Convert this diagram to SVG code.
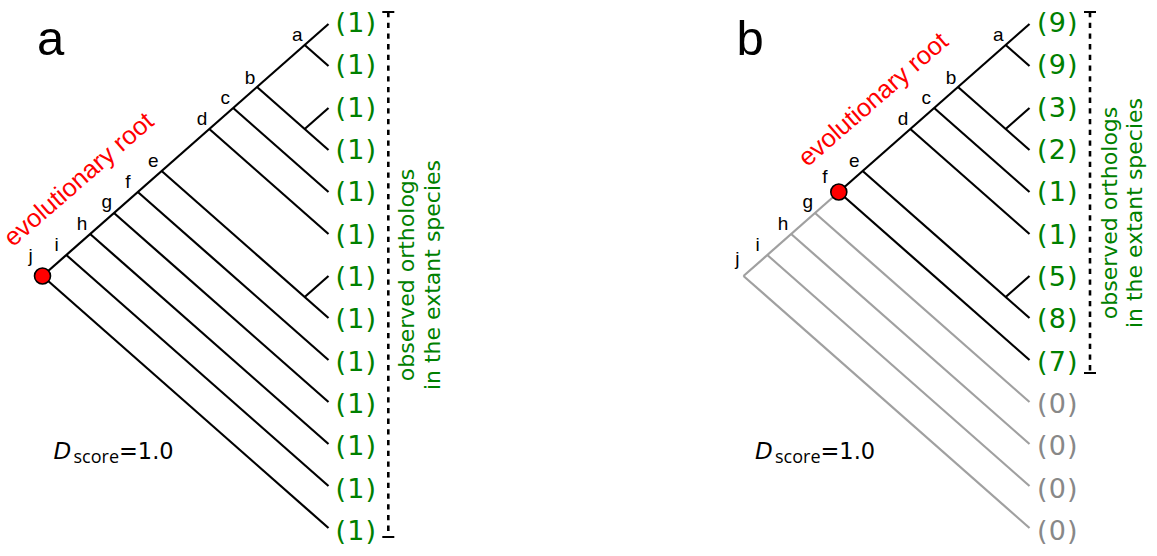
<svg xmlns="http://www.w3.org/2000/svg" width="1157" height="556" viewBox="0 0 1157 556">
<style>
  .br{stroke:#000;stroke-width:2.2;fill:none;stroke-linecap:butt}
  .gr{stroke:#a0a0a0;stroke-width:2.2;fill:none}
  .dot{stroke:#000;stroke-width:2.6;stroke-dasharray:5.3 5.4;fill:none}
  .tick{stroke:#000;stroke-width:2;fill:none}
  .lbl{font-family:"Liberation Sans",Arial,sans-serif;font-size:19px;fill:#000;text-anchor:middle}
  .cnt{font-family:"DejaVu Sans",Verdana,sans-serif;font-size:27px;letter-spacing:1.1px;fill:#008000}
  .cnt0{font-family:"DejaVu Sans",Verdana,sans-serif;font-size:27px;letter-spacing:1.1px;fill:#888888}
  .vt{font-family:"DejaVu Sans",Verdana,sans-serif;font-size:22px;fill:#008000;text-anchor:middle}
  .root{font-family:"Liberation Sans",Arial,sans-serif;font-size:25.5px;fill:#ff0000}
  .panel{font-family:"Liberation Sans",Arial,sans-serif;font-size:49px;fill:#000}
  .rc{fill:#ff0000;stroke:#000;stroke-width:1.6}
  .dD{font-family:"DejaVu Sans",sans-serif;font-style:italic;font-size:23px;fill:#000}
  .ds{font-family:"Open Sans",sans-serif;font-size:18px;fill:#000}
  .dsn{font-family:"DejaVu Sans",sans-serif;font-size:22.5px;fill:#000}
</style>

<!-- ===== Panel a ===== -->
<g id="connectors-a">
  <path class="br" d="M42.48,276 L328.5,24"/>
  <path class="br" d="M304.67,45 L328.5,66"/>
  <path class="br" d="M257,87 L328.5,150"/>
  <path class="br" d="M304.67,129 L328.5,108"/>
  <path class="br" d="M233.16,108 L328.5,192"/>
  <path class="br" d="M209.33,129 L328.5,234"/>
  <path class="br" d="M161.65,171 L328.5,318"/>
  <path class="br" d="M304.67,297 L328.5,276"/>
  <path class="br" d="M137.82,192 L328.5,360"/>
  <path class="br" d="M113.98,213 L328.5,402"/>
  <path class="br" d="M90.15,234 L328.5,444"/>
  <path class="br" d="M66.31,255 L328.5,486"/>
  <path class="br" d="M42.48,276 L328.5,528"/>
  <path class="dot" d="M388.3,12 L388.3,537"/>
  <path class="tick" d="M382.3,12 H394.3 M382.3,537 H394.3"/>
</g>

<g id="panel-a-label"><text class="panel" x="37" y="55">a</text></g>

<g id="root-a">
  <circle class="rc" cx="42.5" cy="276" r="8"/>
  <text class="root" transform="translate(13,247.5) rotate(-41)">evolutionary root</text>
</g>

<g id="nodes-a">
  <g id="a-node-a"><text class="lbl" x="297.3" y="40.7">a</text></g>
  <g id="a-node-b"><text class="lbl" x="250" y="83.5">b</text></g>
  <g id="a-node-c"><text class="lbl" x="225.3" y="103.8">c</text></g>
  <g id="a-node-d"><text class="lbl" x="202" y="125">d</text></g>
  <g id="a-node-e"><text class="lbl" x="153.3" y="167">e</text></g>
  <g id="a-node-f"><text class="lbl" x="128" y="188">f</text></g>
  <g id="a-node-g"><text class="lbl" x="106.7" y="207.5">g</text></g>
  <g id="a-node-h"><text class="lbl" x="82" y="230">h</text></g>
  <g id="a-node-i"><text class="lbl" x="56.7" y="251.3">i</text></g>
  <g id="a-node-j"><text class="lbl" x="30.7" y="261.5">j</text></g>
</g>

<g id="tips-a">
  <g id="a-tip1"><text class="cnt" x="335.5" y="32">(1)</text></g>
  <g id="a-tip2"><text class="cnt" x="335.5" y="74.3">(1)</text></g>
  <g id="a-tip3"><text class="cnt" x="335.5" y="116.7">(1)</text></g>
  <g id="a-tip4"><text class="cnt" x="335.5" y="159">(1)</text></g>
  <g id="a-tip5"><text class="cnt" x="335.5" y="201.3">(1)</text></g>
  <g id="a-tip6"><text class="cnt" x="335.5" y="243.7">(1)</text></g>
  <g id="a-tip7"><text class="cnt" x="335.5" y="286">(1)</text></g>
  <g id="a-tip8"><text class="cnt" x="335.5" y="328.3">(1)</text></g>
  <g id="a-tip9"><text class="cnt" x="335.5" y="370.6">(1)</text></g>
  <g id="a-tip10"><text class="cnt" x="335.5" y="413">(1)</text></g>
  <g id="a-tip11"><text class="cnt" x="335.5" y="455.3">(1)</text></g>
  <g id="a-tip12"><text class="cnt" x="335.5" y="497.6">(1)</text></g>
  <g id="a-tip13"><text class="cnt" x="335.5" y="540">(1)</text></g>
</g>

<g id="vtext-a">
  <text class="vt" transform="translate(414,275) rotate(-90)">observed orthologs</text>
  <text class="vt" transform="translate(440,275) rotate(-90)">in the extant species</text>
</g>

<g id="dscore-a">
  <text y="458.5"><tspan class="dD" x="53.5">D</tspan><tspan class="ds" x="73.5" y="463">score</tspan><tspan class="dsn" x="119" y="458.5">=1.0</tspan></text>
</g>

<!-- ===== Panel b ===== -->
<g id="connectors-b">
  <path class="gr" d="M743.48,276 L838.82,192"/>
  <path class="gr" d="M814.98,213 L1029.5,402"/>
  <path class="gr" d="M791.15,234 L1029.5,444"/>
  <path class="gr" d="M767.31,255 L1029.5,486"/>
  <path class="gr" d="M743.48,276 L1029.5,528"/>
  <path class="br" d="M838.82,192 L1029.5,24"/>
  <path class="br" d="M1005.67,45 L1029.5,66"/>
  <path class="br" d="M958,87 L1029.5,150"/>
  <path class="br" d="M1005.67,129 L1029.5,108"/>
  <path class="br" d="M934.16,108 L1029.5,192"/>
  <path class="br" d="M910.33,129 L1029.5,234"/>
  <path class="br" d="M862.65,171 L1029.5,318"/>
  <path class="br" d="M1005.67,297 L1029.5,276"/>
  <path class="br" d="M838.82,192 L1029.5,360"/>
  <path class="dot" d="M1090,12 L1090,373"/>
  <path class="tick" d="M1084,12 H1096 M1084,373 H1096"/>
</g>

<g id="panel-b-label"><text class="panel" x="736.5" y="55">b</text></g>

<g id="root-b">
  <circle class="rc" cx="838.8" cy="192" r="8"/>
  <text class="root" transform="translate(807.5,167.5) rotate(-41)">evolutionary root</text>
</g>

<g id="nodes-b">
  <g id="b-node-a"><text class="lbl" x="998.3" y="40.7">a</text></g>
  <g id="b-node-b"><text class="lbl" x="951" y="83.5">b</text></g>
  <g id="b-node-c"><text class="lbl" x="926.3" y="103.8">c</text></g>
  <g id="b-node-d"><text class="lbl" x="903" y="125">d</text></g>
  <g id="b-node-e"><text class="lbl" x="854.3" y="167">e</text></g>
  <g id="b-node-f"><text class="lbl" x="825" y="183.3">f</text></g>
  <g id="b-node-g"><text class="lbl" x="807.7" y="207.5">g</text></g>
  <g id="b-node-h"><text class="lbl" x="783" y="230">h</text></g>
  <g id="b-node-i"><text class="lbl" x="757.7" y="251.3">i</text></g>
  <g id="b-node-j"><text class="lbl" x="737.3" y="264.5">j</text></g>
</g>

<g id="tips-b">
  <g id="b-tip1"><text class="cnt" x="1037" y="32">(9)</text></g>
  <g id="b-tip2"><text class="cnt" x="1037" y="74.3">(9)</text></g>
  <g id="b-tip3"><text class="cnt" x="1037" y="116.7">(3)</text></g>
  <g id="b-tip4"><text class="cnt" x="1037" y="159">(2)</text></g>
  <g id="b-tip5"><text class="cnt" x="1037" y="201.3">(1)</text></g>
  <g id="b-tip6"><text class="cnt" x="1037" y="243.7">(1)</text></g>
  <g id="b-tip7"><text class="cnt" x="1037" y="286">(5)</text></g>
  <g id="b-tip8"><text class="cnt" x="1037" y="328.3">(8)</text></g>
  <g id="b-tip9"><text class="cnt" x="1037" y="370.6">(7)</text></g>
  <g id="b-tip10"><text class="cnt0" x="1037" y="413">(0)</text></g>
  <g id="b-tip11"><text class="cnt0" x="1037" y="455.3">(0)</text></g>
  <g id="b-tip12"><text class="cnt0" x="1037" y="497.6">(0)</text></g>
  <g id="b-tip13"><text class="cnt0" x="1037" y="540">(0)</text></g>
</g>

<g id="vtext-b">
  <text class="vt" transform="translate(1116.5,213) rotate(-90)">observed orthologs</text>
  <text class="vt" transform="translate(1141.5,213) rotate(-90)">in the extant species</text>
</g>

<g id="dscore-b">
  <text y="458.5"><tspan class="dD" x="755">D</tspan><tspan class="ds" x="775" y="463">score</tspan><tspan class="dsn" x="820.5" y="458.5">=1.0</tspan></text>
</g>
</svg>
